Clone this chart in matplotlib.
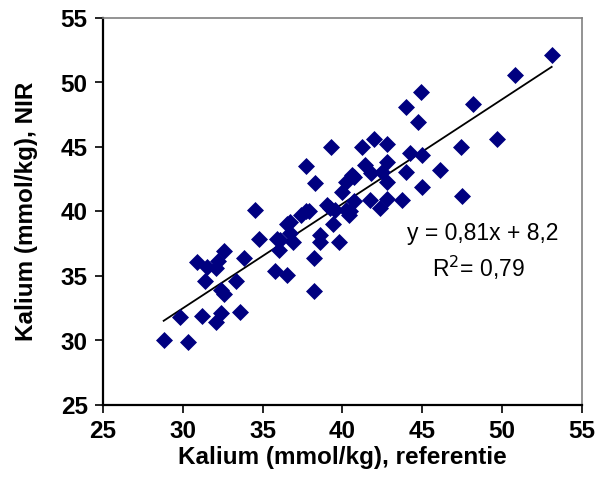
import matplotlib.pyplot as plt
import numpy as np

plt.rcParams['font.family'] = ['Liberation Sans', 'DejaVu Sans']

# Kalium (mmol/kg): reference value vs NIR prediction
ref = [28.8, 30.3, 29.85, 31.2, 32.1, 32.4, 33.6, 30.9, 31.5, 32.1,
       32.2, 32.6, 31.4, 32.4, 32.6, 33.3, 33.8, 34.5, 34.8, 35.8,
       36.5, 35.9, 36.1, 36.0, 36.7, 36.7, 36.9, 36.5, 37.4, 37.7,
       37.7, 38.3, 38.2, 38.2, 38.6, 38.6, 39.0, 39.3, 39.4, 39.5,
       39.8, 40.0, 40.25, 40.4, 40.5, 40.25, 40.6, 40.7, 40.7, 41.2,
       41.4, 41.8, 41.7, 42.0, 42.35, 42.5, 42.8, 42.8, 42.8, 42.8,
       43.7, 44.0, 44.0, 44.2, 44.7, 44.9, 45.0, 45.0, 46.1, 47.4,
       47.5, 48.2, 49.7, 50.8, 53.1, 39.2, 37.9]
nir = [30.0, 29.9, 31.8, 31.9, 31.4, 32.1, 32.2, 36.1, 35.7, 35.6,
       36.2, 36.9, 34.6, 33.9, 33.6, 34.6, 36.4, 40.1, 37.9, 35.4,
       35.1, 37.9, 37.8, 37.0, 39.2, 38.3, 37.6, 39.0, 39.7, 40.05,
       43.5, 42.2, 36.4, 33.8, 38.2, 37.6, 40.5, 45.0, 39.0, 40.1,
       37.6, 41.5, 40.1, 39.7, 40.0, 42.3, 42.85, 42.7, 40.8, 45.0,
       43.6, 43.0, 40.9, 45.6, 40.3, 43.1, 45.25, 43.8, 42.25, 41.0,
       40.9, 48.1, 43.1, 44.5, 46.9, 49.3, 44.35, 41.9, 43.2, 45.0,
       41.2, 48.3, 45.6, 50.6, 52.1, 40.3, 40.0]

slope = 0.81
intercept = 8.2
r2 = 0.79

x_ticks = [25, 30, 35, 40, 45, 50, 55]
y_ticks = [25, 30, 35, 40, 45, 50, 55]

fig = plt.figure(figsize=(6.09, 4.86), dpi=100)
ax = fig.add_axes([103/609, 81/486, 479/609, 387/486])

ax.scatter(ref, nir, marker='D', s=75, color='#000080', linewidths=0, zorder=3)

xs = np.array([min(ref), max(ref)])
ax.plot(xs, slope*xs + intercept, color='black', lw=1.3, zorder=2)

ax.set_xlim(25, 55)
ax.set_ylim(25, 55)
ax.set_xticks(x_ticks)
ax.set_yticks(y_ticks)
ax.tick_params(direction='out', length=6, width=1.2, labelsize=17.5, pad=5)
for lbl in ax.get_xticklabels() + ax.get_yticklabels():
    lbl.set_fontweight('bold')

for s in ['left', 'bottom']:
    ax.spines[s].set_linewidth(1.6)
for s in ['top', 'right']:
    ax.spines[s].set_color('#808080')
    ax.spines[s].set_linewidth(1.2)

ax.set_xlabel('Kalium (mmol/kg), referentie', fontsize=17.5, fontweight='bold', labelpad=2)
ax.set_ylabel('Kalium (mmol/kg), NIR', fontsize=17.5, fontweight='bold', labelpad=16)

eq = f'y = {slope:.2f}x + {intercept:.1f}'.replace('.', ',')
ax.text(48.8, 38.3, eq, fontsize=16.5, ha='center', va='center')
ax.text(48.5, 35.6, f'R$^2$= {r2:.2f}'.replace('.', ','), fontsize=16.5, ha='center', va='center')

fig.savefig('out.png', dpi=100)
